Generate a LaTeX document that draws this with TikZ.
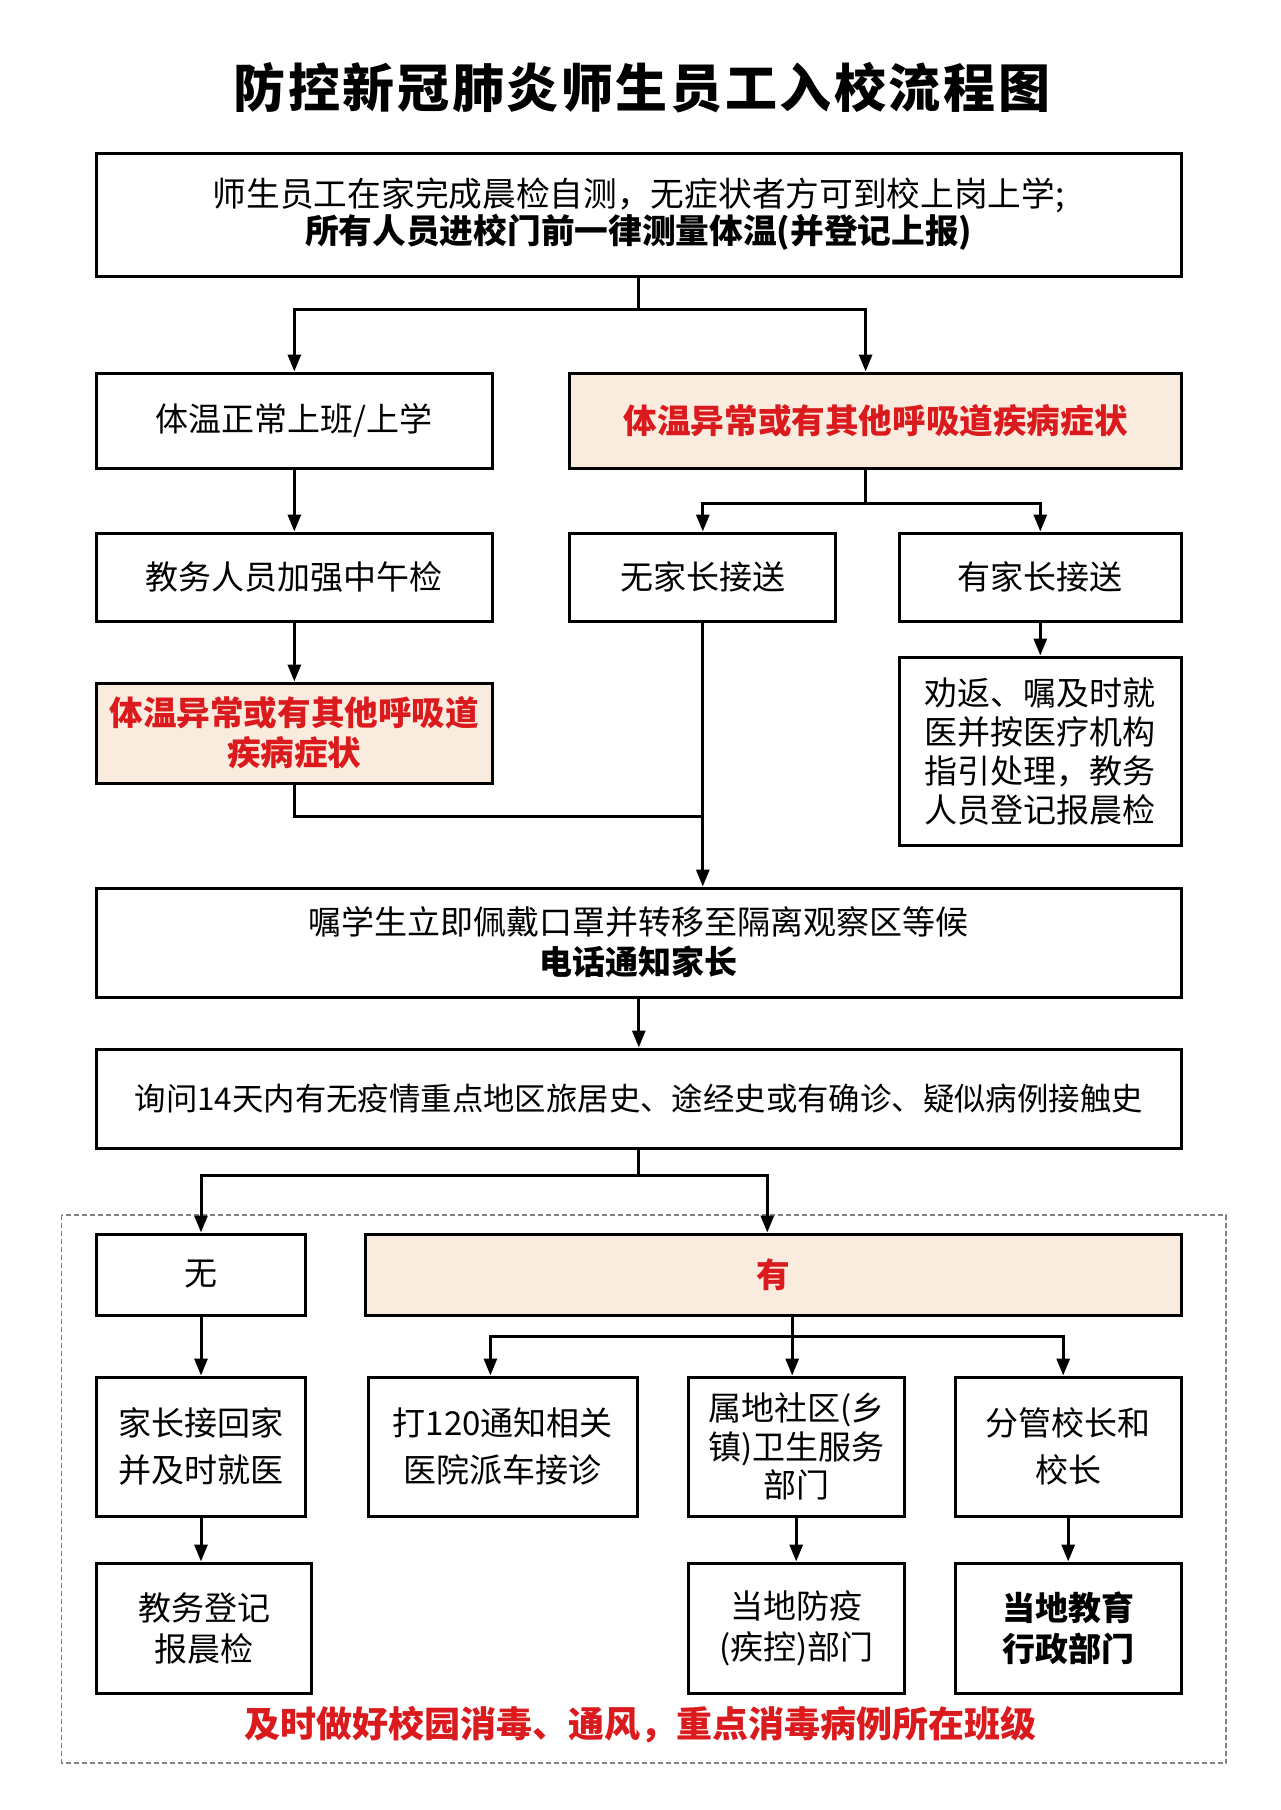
\documentclass[tikz,border=0pt]{standalone}
\usepackage{fontspec}
\setmainfont{Noto Sans CJK SC}
\usetikzlibrary{arrows.meta}
\definecolor{redtxt}{HTML}{DA1A1C}
\definecolor{peach}{HTML}{FAEBDF}
\definecolor{dashgray}{HTML}{808080}
\tikzset{
  box/.style={draw=black, line width=3pt, rectangle, inner sep=0pt, align=center,
    font=\fontsize{33}{40}\selectfont, text=black, fill=white},
  hot/.style={box, fill=peach, text=redtxt, font=\fontsize{33.6}{40}\selectfont\bfseries},
  arr/.style={line width=3pt, -{Triangle[length=17pt,width=13pt]}},
  ln/.style={line width=3pt},
  dashbox/.style={draw=dashgray, line width=1.5pt, dash pattern=on 5pt off 3pt},
}
\begin{document}
\begin{tikzpicture}[x=1pt,y=-1pt]
\fill[white] (0,0) rectangle (1280,1810);
\useasboundingbox (0,0) rectangle (1280,1810);

\draw[dashbox] (61.5,1215) rectangle (1226,1763);

\node[font=\fontsize{52}{58}\selectfont\bfseries\addfontfeature{LetterSpace=5}] (title) at (642,88) {防控新冠肺炎师生员工入校流程图};

\node[box, minimum width=1085pt, minimum height=123pt, font=\fontsize{33.7}{37}\selectfont] (top) at (638.8,214.5)
  {师生员工在家完成晨检自测，无症状者方可到校上岗上学;\\\textbf{所有人员进校门前一律测量体温(并登记上报)}};

\node[box, minimum width=396pt, minimum height=95pt] (n1) at (294.35,420.5) {体温正常上班/上学};
\node[hot, minimum width=611.5pt, minimum height=95pt] (r1) at (875.6,420.5) {体温异常或有其他呼吸道疾病症状};

\node[box, minimum width=396pt, minimum height=88pt] (n2) at (294.35,577) {教务人员加强中午检};
\node[box, minimum width=266pt, minimum height=88pt] (n3) at (702.8,577) {无家长接送};
\node[box, minimum width=282pt, minimum height=88pt] (n4) at (1040.3,577) {有家长接送};

\node[hot, minimum width=396pt, minimum height=100pt] (r2) at (294.35,733) {体温异常或有其他呼吸道\\疾病症状};
\node[box, minimum width=282pt, minimum height=188pt, font=\fontsize{33}{39}\selectfont] (n5) at (1040.3,751)
  {劝返、嘱及时就\\医并按医疗机构\\指引处理，教务\\人员登记报晨检};

\node[box, minimum width=1085pt, minimum height=109pt] (b3) at (638.8,942.5)
  {嘱学生立即佩戴口罩并转移至隔离观察区等候\\\textbf{电话通知家长}};
\node[box, minimum width=1085pt, minimum height=99pt, font=\fontsize{31.4}{40}\selectfont] (b4) at (638.8,1098.5)
  {询问14天内有无疫情重点地区旅居史、途经史或有确诊、疑似病例接触史};

\node[box, minimum width=209.5pt, minimum height=81pt] (wu) at (201,1274.5) {无};
\node[hot, minimum width=816pt, minimum height=81pt] (you) at (773.3,1274.5) {有};

\node[box, minimum width=209.5pt, minimum height=139pt, font=\fontsize{33}{47}\selectfont] (c1) at (201,1446.5) {家长接回家\\并及时就医};
\node[box, minimum width=269pt, minimum height=139pt, font=\fontsize{33}{47}\selectfont] (c2) at (502.8,1446.5) {打120通知相关\\医院派车接诊};
\node[box, minimum width=216.3pt, minimum height=139pt, font=\fontsize{33}{38.5}\selectfont] (c3) at (796.2,1446.5) {属地社区(乡\\镇)卫生服务\\部门};
\node[box, minimum width=226.3pt, minimum height=139pt, font=\fontsize{33}{47}\selectfont] (c4) at (1068.2,1446.5) {分管校长和\\校长};

\node[box, minimum width=215.4pt, minimum height=130pt, font=\fontsize{33}{41}\selectfont] (d1) at (204,1628) {教务登记\\报晨检};
\node[box, minimum width=216.3pt, minimum height=130pt, font=\fontsize{33}{41}\selectfont] (d3) at (796.2,1628) {当地防疫\\(疾控)部门};
\node[box, minimum width=226.3pt, minimum height=130pt, font=\fontsize{33}{41}\selectfont\bfseries] (d4) at (1068.2,1628) {当地教育\\行政部门};

\node[text=redtxt, font=\fontsize{36}{40}\selectfont\bfseries] (note) at (640,1725) {及时做好校园消毒、通风，重点消毒病例所在班级};

% connectors
\path ([yshift=-32pt]top.south) coordinate (j1);
\draw[ln] (top.south) -- (j1);
\draw[arr] (j1) -| (n1.north);
\draw[arr] (j1) -| ([xshift=-10pt]r1.north);

\path ([xshift=-10pt,yshift=-34pt]r1.south) coordinate (j2);
\draw[ln] ([xshift=-10pt]r1.south) -- (j2);
\draw[arr] (j2) -| (n3.north);
\draw[arr] (j2) -| (n4.north);

\draw[arr] (n1.south) -- (n2.north);
\draw[arr] (n2.south) -- (r2.north);
\draw[arr] (n4.south) -- (n5.north);
\draw[arr] (n3.south) -- (n3.south |- b3.north);
\path ([yshift=-32pt]r2.south) coordinate (k);
\coordinate (j3) at (k -| n3.south);
\draw[ln] (r2.south) -- (k) -- (j3);

\draw[arr] (b3.south) -- (b4.north);
\path ([yshift=-26pt]b4.south) coordinate (j4);
\draw[ln] (b4.south) -- (j4);
\draw[arr] (j4) -| (wu.north);
\draw[arr] (j4) -| ([xshift=-6pt]you.north);

\path ([xshift=19pt,yshift=-20pt]you.south) coordinate (j5);
\draw[ln] ([xshift=19pt]you.south) -- (j5);
\draw[arr] (j5) -| ([xshift=-12.4pt]c2.north);
\draw[arr] (j5) -| ([xshift=-4pt]c3.north);
\draw[arr] (j5) -| ([xshift=-5pt]c4.north);

\draw[arr] (wu.south) -- (c1.north);
\draw[arr] (c1.south) -- ([xshift=-3pt]d1.north);
\draw[arr] (c3.south) -- (d3.north);
\draw[arr] (c4.south) -- (d4.north);
\end{tikzpicture}
\end{document}
